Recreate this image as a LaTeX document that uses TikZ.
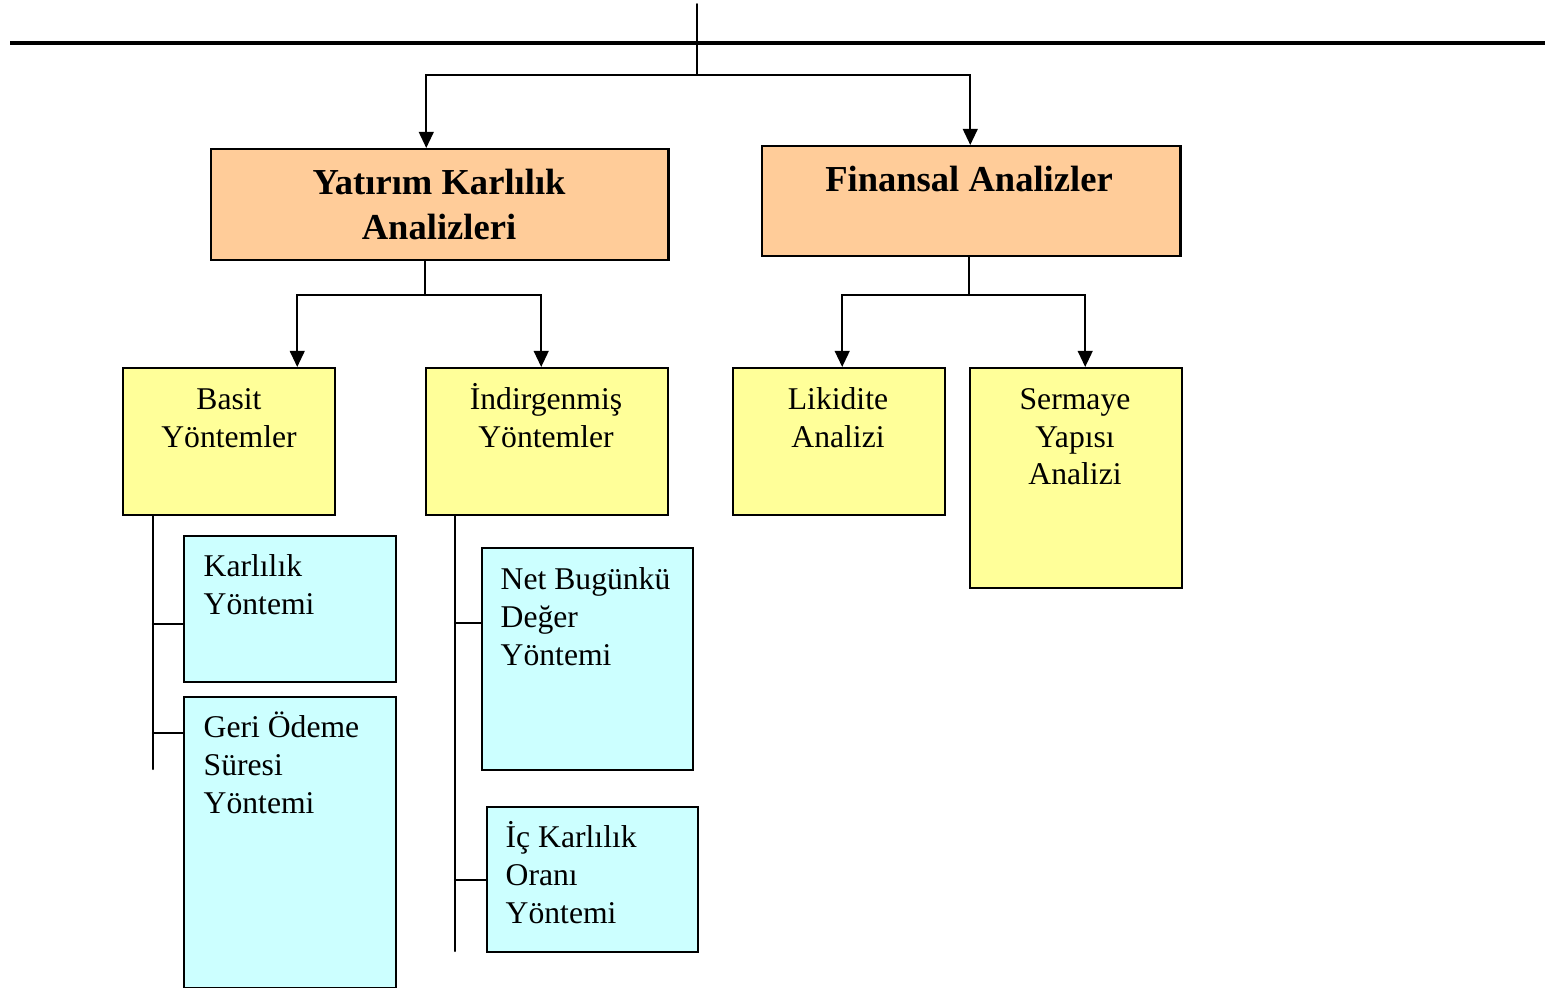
\documentclass[tikz,border=0pt]{standalone}
\usepackage{fontspec}
\setmainfont{Liberation Serif}
\usepackage{tikz}
\usetikzlibrary{arrows.meta}

\begin{document}
\begin{tikzpicture}
			[x=0.01cm,y=-0.01cm,line cap=round,
			%Styles
			link/.style={line width=0.6pt},
			arr/.style={link,-{Triangle[length=4.6pt,width=4.2pt]}},
			rule line/.style={line width=1.2pt,line cap=butt},
			box/.style={draw,line width=0.65pt,inner sep=0pt,anchor=north west},
			title box/.style={box,fill=peach},
			group box/.style={box,fill=lemon},
			method box/.style={box,fill=ice},
			title text/.style={font=\bfseries\fontsize{10.4}{12.8}\selectfont,align=center,anchor=base,inner sep=0pt},
			group text/.style={font=\fontsize{9}{10.8}\selectfont,align=center,anchor=base,inner sep=0pt},
			method text/.style={font=\fontsize{9}{10.8}\selectfont,align=left,anchor=base west,inner sep=0pt}
			]
			
			%Colors
			\definecolor{peach}{HTML}{FFCC99}
			\definecolor{lemon}{HTML}{FFFF99}
			\definecolor{ice}{HTML}{CCFFFF}
			
			\useasboundingbox (0,0) rectangle (1563,988);
			
			%The boxes
			\node[title box,minimum width=4.57cm,minimum height=1.11cm] (yatirim) at (210,148) {};
			\node[title box,minimum width=4.18cm,minimum height=1.10cm] (finansal) at (761,145) {};
			\node[group box,minimum width=2.12cm,minimum height=1.47cm] (basit) at (122,367) {};
			\node[group box,minimum width=2.42cm,minimum height=1.47cm] (indirgenmis) at (425,367) {};
			\node[group box,minimum width=2.12cm,minimum height=1.47cm] (likidite) at (732,367) {};
			\node[group box,minimum width=2.12cm,minimum height=2.20cm] (sermaye) at (969,367) {};
			\node[method box,minimum width=2.12cm,minimum height=1.46cm] (karlilik) at (183,535) {};
			\node[method box,minimum width=2.12cm,minimum height=2.91cm] (geri) at (183,696) {};
			\node[method box,minimum width=2.11cm,minimum height=2.22cm] (nbd) at (481,547) {};
			\node[method box,minimum width=2.11cm,minimum height=1.45cm] (ic) at (486,806) {};
			
			%The texts (anchored at the last line)
			\node[title text] (yatirim-t) at (439,240) {Yatırım Karlılık\\Analizleri};
			\node[title text] (finansal-t) at (969,192) {Finansal Analizler};
			\node[group text] (basit-t) at (229,447) {Basit\\Yöntemler};
			\node[group text] (indirgenmis-t) at (546,447) {İndirgenmiş\\Yöntemler};
			\node[group text] (likidite-t) at (838,447) {Likidite\\Analizi};
			\node[group text] (sermaye-t) at (1075,485) {Sermaye\\Yapısı\\Analizi};
			\node[method text] (karlilik-t) at (203,614) {Karlılık\\Yöntemi};
			\node[method text] (geri-t) at (203,813) {Geri Ödeme\\Süresi\\Yöntemi};
			\node[method text] (nbd-t) at (500,665) {Net Bugünkü\\Değer\\Yöntemi};
			\node[method text] (ic-t) at (505,923) {İç Karlılık\\Oranı\\Yöntemi};
			
			%The connectors
			\coordinate (rule-l) at (10,43);
			\coordinate (rule-r) at (1545,43);
			\coordinate (top) at (697,4);
			\coordinate (hub) at (697,75);
			\coordinate (hubA) at (425,295);
			\coordinate (hubB) at (969,295);
			\coordinate (stemA) at (153,769);
			\coordinate (stemB) at (455,951);
			
			\draw[rule line] (rule-l) -- (rule-r);
			\draw[line width=0.5pt] (top) -- (hub);
			\draw[arr] (hub) -| ([xshift=-0.135cm]yatirim.north);
			\draw[arr] (hub) -| ([xshift=-0.01cm]finansal.north);
			
			\draw[link] (yatirim.south -| hubA) -- (hubA);
			\draw[arr] (hubA) -| ([xshift=0.68cm]basit.north);
			\draw[arr] (hubA) -| ([xshift=-0.06cm]indirgenmis.north);
			
			\draw[link] (finansal.south -| hubB) -- (hubB);
			\draw[arr] (hubB) -| ([xshift=0.03cm]likidite.north);
			\draw[arr] (hubB) -| ([xshift=0.09cm]sermaye.north);
			
			\draw[link] (basit.south -| stemA) -- (stemA);
			\draw[link] ([yshift=-0.15cm]karlilik.west) -- +(-0.3cm,0);
			\draw[link] ([yshift=-0.37cm]geri.north west) -- +(-0.3cm,0);
			
			\draw[link] (indirgenmis.south -| stemB) -- (stemB);
			\draw[link] ([yshift=-0.76cm]nbd.north west) -- +(-0.26cm,0);
			\draw[link] (ic.west) -- +(-0.31cm,0);
		\end{tikzpicture}
\end{document}
